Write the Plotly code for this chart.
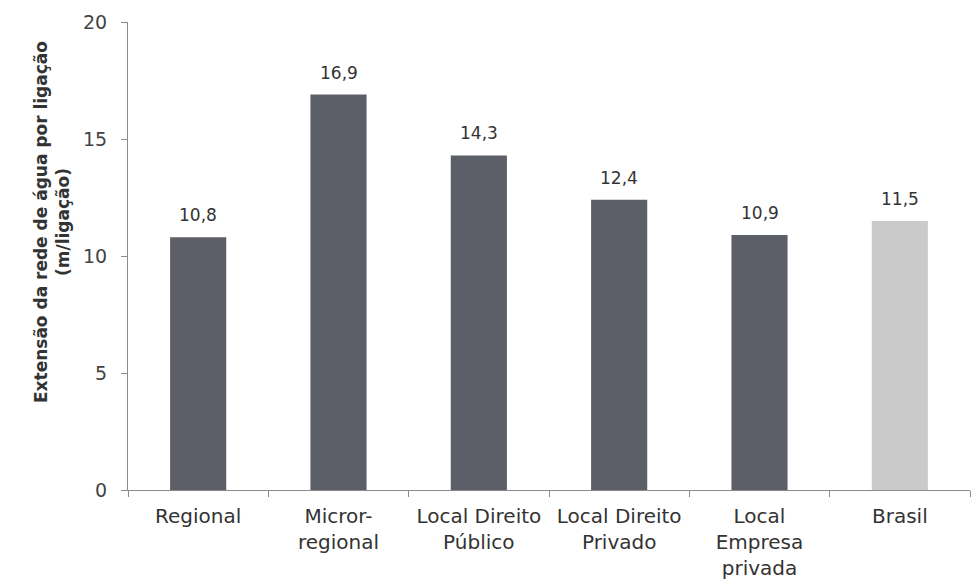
import plotly.graph_objects as go

# Extensão da rede de água por ligação, por abrangência do prestador
categorias = ["Regional", "Micror-<br>regional", "Local Direito<br>Público",
              "Local Direito<br>Privado", "Local<br>Empresa<br>privada", "Brasil"]
valores = [10.8, 16.9, 14.3, 12.4, 10.9, 11.5]
cores = ["#5c5f67", "#5c5f67", "#5c5f67", "#5c5f67", "#5c5f67", "#cacaca"]
ticks_y = [0, 5, 10, 15, 20]

fonte = "'DejaVu Sans', Verdana, sans-serif"

fig = go.Figure(go.Bar(
    x=categorias,
    y=valores,
    marker=dict(color=cores, line=dict(width=0)),
    width=0.4,
    hoverinfo="x+y",
))

# rótulos de valor acima das barras
for cat, v in zip(categorias, valores):
    fig.add_annotation(
        x=cat, y=v, xref="x", yref="y",
        text=f"{v:.1f}".replace(".", ","),
        showarrow=False, yanchor="bottom", yshift=10,
        font=dict(family=fonte, size=17, color="#333333"),
    )

# título do eixo vertical
fig.add_annotation(
    x=-0.09, y=0.573, xref="paper", yref="paper",
    text="<b>Extensão da rede de água por ligação<br>(m/ligação)</b>",
    showarrow=False, textangle=-90, xanchor="center", yanchor="middle",
    font=dict(family=fonte, size=17, color="#333333"),
)

fig.update_layout(
    width=971, height=584,
    margin=dict(l=128, r=1, t=22, b=94),
    paper_bgcolor="white", plot_bgcolor="white",
    showlegend=False,
    font=dict(family=fonte, size=18, color="#333333"),
)

fig.update_yaxes(
    range=[0, 20], tickvals=ticks_y,
    showgrid=False, zeroline=False,
    showline=True, linecolor="#8a8a8a", linewidth=1,
    ticks="outside", ticklen=6, tickcolor="#8a8a8a",
    ticklabelstandoff=10,
    tickfont=dict(size=19, color="#444444"),
)

fig.update_xaxes(
    showgrid=False,
    showline=True, linecolor="#8a8a8a", linewidth=1,
    ticks="outside", tickson="boundaries", ticklen=6, tickcolor="#8a8a8a",
    ticklabelstandoff=8,
    tickfont=dict(size=20, color="#333333"),
)

fig.write_html("out.html")
